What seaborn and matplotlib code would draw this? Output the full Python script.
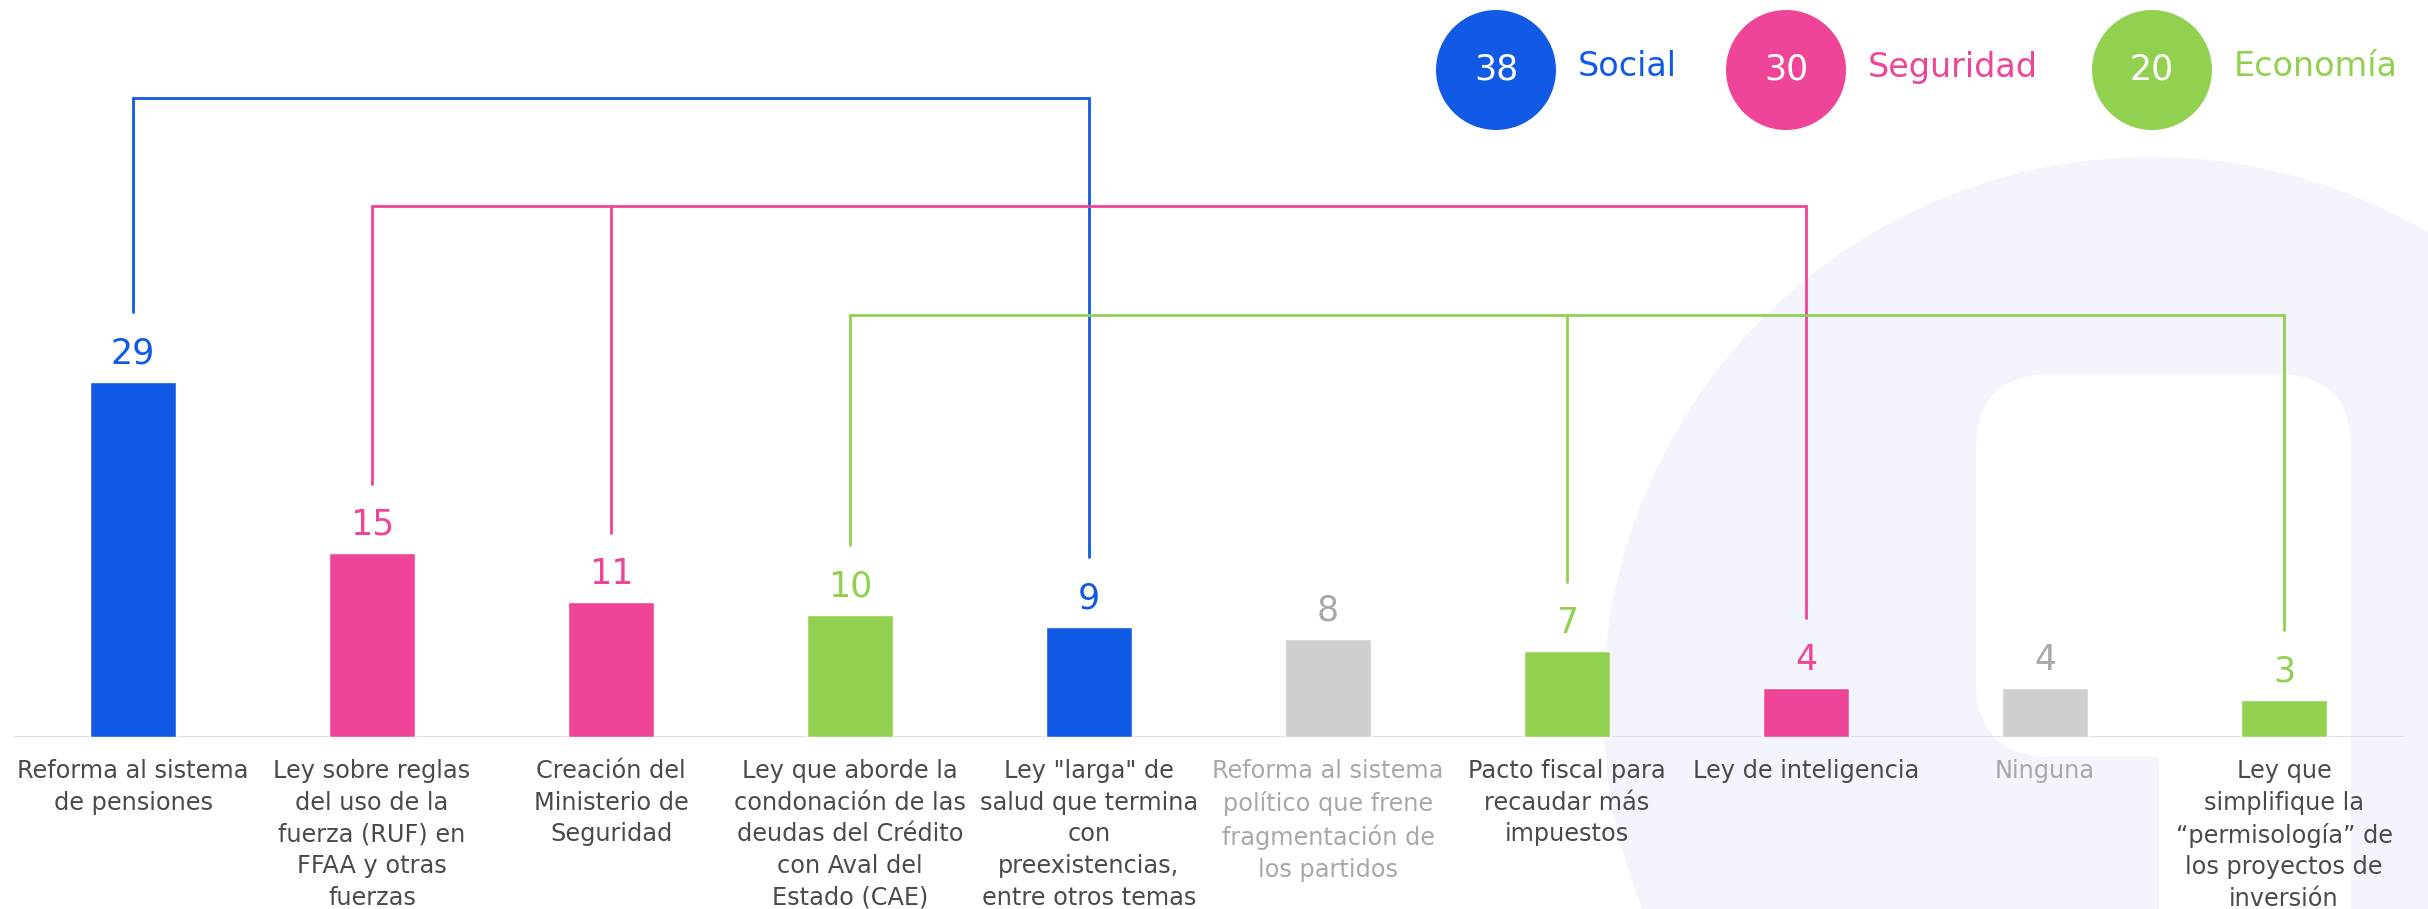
import numpy as np
import pandas as pd
import matplotlib.pyplot as plt
import matplotlib.patches as mpatches
import seaborn as sns

# data
labels = [
    "Reforma al sistema\nde pensiones",
    "Ley sobre reglas\ndel uso de la\nfuerza (RUF) en\nFFAA y otras\nfuerzas",
    "Creación del\nMinisterio de\nSeguridad",
    "Ley que aborde la\ncondonación de las\ndeudas del Crédito\ncon Aval del\nEstado (CAE)",
    "Ley \"larga\" de\nsalud que termina\ncon\npreexistencias,\nentre otros temas",
    "Reforma al sistema\npolítico que frene\nfragmentación de\nlos partidos",
    "Pacto fiscal para\nrecaudar más\nimpuestos",
    "Ley de inteligencia",
    "Ninguna",
    "Ley que\nsimplifique la\n“permisología” de\nlos proyectos de\ninversión",
]
values = [29, 15, 11, 10, 9, 8, 7, 4, 4, 3]
groups = ["Social", "Seguridad", "Seguridad", "Economía", "Social",
          "Ninguna", "Economía", "Seguridad", "Ninguna", "Economía"]

legend_names = ["Social", "Seguridad", "Economía"]
legend_totals = [38, 30, 20]

# styling
colors = {"Social": "#105AE6", "Seguridad": "#EE4598",
          "Economía": "#92D150", "Ninguna": "#CFCDCE"}
text_colors = {"Social": "#105AE6", "Seguridad": "#EE4598",
               "Economía": "#92D150", "Ninguna": "#A8A8A8"}
bracket_height = {"Social": 52.2, "Seguridad": 43.4, "Economía": 34.5}

sns.set_style("white")
plt.rcParams['font.family'] = ['DejaVu Sans']

W, H = 2428, 909
fig = plt.figure(figsize=(W / 100, H / 100), dpi=100)

# background logo watermark, drawn in pixel coords
bg = fig.add_axes([0, 0, 1, 1])
bg.set_xlim(0, W)
bg.set_ylim(H, 0)
bg.axis('off')
bg.add_patch(mpatches.Circle((2151, 705), 548, color="#F3F4FC", lw=0))
bg.add_patch(mpatches.FancyBboxPatch((1976, 374), 375, 383,
             boxstyle="round,pad=0,rounding_size=75", color="white", lw=0))
bg.add_patch(mpatches.Rectangle((2159, 650), 192, 300, color="white", lw=0))

# legend circles
circle_x = [1496, 1786, 2152]
for cx, name, tot in zip(circle_x, legend_names, legend_totals):
    bg.add_patch(mpatches.Circle((cx, 70), 60, color=colors[name], lw=0))
    bg.text(cx, 70, str(tot), ha='center', va='center', color='white', fontsize=25)
    bg.text(cx + 82, 67, name, ha='left', va='center', color=colors[name], fontsize=24)

# main chart
ax = fig.add_axes([13.5 / W, 172 / H, 2390 / W, 737 / H])
ax.patch.set_alpha(0)
df = pd.DataFrame({"label": labels, "value": values, "group": groups})
sns.barplot(data=df, x="label", y="value", hue="group", palette=colors,
            order=labels, dodge=False, width=0.356, saturation=1,
            legend=False, ax=ax)
ax.set_xlim(-0.5, 9.5)
ax.set_ylim(0, 60.2)
ax.set_xlabel("")
ax.set_ylabel("")
ax.set_yticks([])
sns.despine(ax=ax, left=True, bottom=True)
ax.axhline(0, color="#DDDDDD", lw=2, zorder=0.5)

ax.set_xticks(range(len(labels)))
ax.set_xticklabels(labels, fontsize=17.3, linespacing=1.4)
ax.tick_params(axis='x', length=0, pad=16)
for tl, g in zip(ax.get_xticklabels(), groups):
    tl.set_color("#A8A8A8" if g == "Ninguna" else "#4A4A4A")

for i, (v, g) in enumerate(zip(values, groups)):
    ax.text(i, v + 1.5, str(v), ha='center', va='baseline',
            fontsize=25, color=text_colors[g])

# brackets joining bars of the same theme
for name in legend_names:
    idx = [i for i, g in enumerate(groups) if g == name]
    h = bracket_height[name]
    lo, hi = idx[0], idx[-1]
    ax.plot([lo, lo, hi, hi], [values[lo] + 5.7, h, h, values[hi] + 5.7],
            color=colors[name], lw=2, solid_joinstyle='miter')
    for i in idx[1:-1]:
        ax.plot([i, i], [values[i] + 5.7, h], color=colors[name], lw=2)

fig.savefig("out.png", dpi=100)
